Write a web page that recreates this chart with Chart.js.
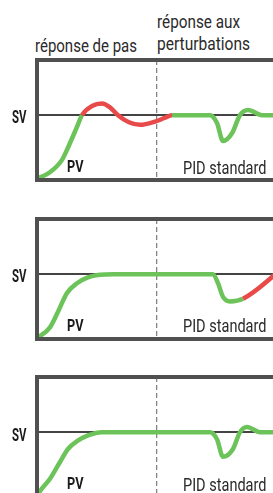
<!DOCTYPE html>
<html>
<head>
<meta charset="utf-8">
<script src="https://cdn.jsdelivr.net/npm/chart.js@4.4.1/dist/chart.umd.min.js"></script>
<style>
    html, body { margin: 0; padding: 0; background: #fff; }
    body { width: 273px; height: 493px; overflow: hidden; position: relative; }
    canvas { position: absolute; left: 0; }
    .lbl {
        position: absolute;
        font-family: Roboto, 'DejaVu Sans Condensed', sans-serif;
        font-size: 18px;
        line-height: 18px;
        color: #2a2a2a;
        white-space: nowrap;
        transform-origin: 0 0;
    }
    .pv { font-weight: bold; font-size: 16.5px; line-height: 16.5px; color: #1a1a1a; }
    .sv { font-weight: bold; font-size: 19px; line-height: 19px; color: #1a1a1a; }
</style>
</head>
<body>

<canvas id="panel1" width="290" height="128" style="top:56px"></canvas>
<canvas id="panel2" width="290" height="128" style="top:215px"></canvas>
<canvas id="panel3" width="290" height="128" style="top:373px"></canvas>

<div class="lbl" data-w="102" style="left:35px; top:36.5px">réponse de pas</div>
<div class="lbl" data-w="83" style="left:157px; top:13px">réponse aux</div>
<div class="lbl" data-w="93" style="left:157px; top:34.5px">perturbations</div>

<div class="lbl sv" data-w="14.5" style="left:11.7px; top:107px">SV</div>
<div class="lbl sv" data-w="14.5" style="left:11.7px; top:266px">SV</div>
<div class="lbl sv" data-w="14.5" style="left:11.7px; top:425px">SV</div>

<div class="lbl pv" data-w="16.5" style="left:67px; top:159px">PV</div>
<div class="lbl" data-w="83.5" style="left:183px; top:159px">PID standard</div>
<div class="lbl pv" data-w="16.5" style="left:67px; top:318px">PV</div>
<div class="lbl" data-w="83.5" style="left:183px; top:317px">PID standard</div>
<div class="lbl pv" data-w="16.5" style="left:67px; top:476px">PV</div>
<div class="lbl" data-w="83.5" style="left:183px; top:475.5px">PID standard</div>

<script>
// Setpoint level and moment the disturbance part begins (dashed line)
const svLevel = 100;
const splitTime = 120;

// Panel 1 - overshooting step response
const panel1Time = [0, 13, 25, 33, 40, 45, 55, 65, 73, 81, 92, 103, 118, 128, 135, 173, 180, 186, 195, 203, 211, 225, 250];
const panel1PV   = [2, 12, 31, 57, 82, 100, 114, 118, 112, 100, 89, 85, 90, 96, 100, 100, 88, 60, 72, 100, 108, 100, 100];
const panel1Red  = [45, 135];

// Panel 2 - slow recovery after disturbance
const panel2Time = [0, 13, 21, 30, 40, 51, 63, 76, 176, 181, 186, 193, 206, 250];
const panel2PV   = [1, 18, 42, 71, 86, 95, 99, 100, 100, 86, 65, 58, 62, 115];
const panel2Red  = [206, 250];

// Panel 3 - good on both
const panel3Time = [0, 3, 13, 23, 31, 40, 51, 65, 173, 180, 186, 196, 203, 210, 223, 250];
const panel3PV   = [0, 9, 28, 54, 74, 86, 95, 100, 100, 89, 62, 74, 100, 108, 100, 100];
const panel3Red  = [];

const GREEN = '#6cc35a';
const RED = '#e84a4a';

// squeeze the labels to the condensed width of the original lettering
document.querySelectorAll('.lbl[data-w]').forEach(el => {
    const w = el.getBoundingClientRect().width;
    if (w > 0) el.style.transform = `scaleX(${parseFloat(el.dataset.w) / w})`;
});

// Draw the thick frame around the plot area
const framePlugin = {
    id: 'frame',
    afterDraw(chart) {
        const { ctx, chartArea } = chart;
        ctx.save();
        ctx.strokeStyle = '#505050';
        ctx.lineWidth = 4;
        ctx.strokeRect(chartArea.left, chartArea.top, chartArea.right - chartArea.left, chartArea.bottom - chartArea.top);
        ctx.restore();
    }
};

function makePanel(canvasId, times, values, redRange) {
    const points = times.map((t, i) => ({ x: t, y: values[i] }));
    const isRed = (a, b) => redRange.length === 2 && a >= redRange[0] && b <= redRange[1];

    new Chart(document.getElementById(canvasId), {
        type: 'line',
        data: {
            datasets: [{
                data: points,
                borderColor: GREEN,
                borderWidth: 4.5,
                pointRadius: 0,
                cubicInterpolationMode: 'monotone',
                segment: {
                    borderColor: c => isRed(c.p0.parsed.x, c.p1.parsed.x) ? RED : GREEN
                }
            }]
        },
        options: {
            responsive: false,
            animation: false,
            devicePixelRatio: 1,
            layout: { padding: { top: 4, bottom: 4, left: 0, right: 3 } },
            plugins: { legend: { display: false }, tooltip: { enabled: false } },
            scales: {
                x: {
                    type: 'linear',
                    min: 0,
                    max: 250,
                    border: { display: false, dash: [5, 3] },
                    ticks: { display: false },
                    grid: { color: '#858585', lineWidth: 1.3, drawTicks: false },
                    afterBuildTicks: s => { s.ticks = [{ value: splitTime }]; },
                    afterFit: s => { s.height = 0; s.paddingLeft = 0; s.paddingRight = 0; }
                },
                y: {
                    min: 0,
                    max: 185,
                    border: { display: false },
                    ticks: { display: false },
                    grid: { color: '#444', lineWidth: 2, drawTicks: false },
                    afterBuildTicks: s => { s.ticks = [{ value: svLevel }]; },
                    afterFit: s => { s.width = 37; s.paddingTop = 0; s.paddingBottom = 0; }
                }
            }
        },
        plugins: [framePlugin]
    });
}

makePanel('panel1', panel1Time, panel1PV, panel1Red);
makePanel('panel2', panel2Time, panel2PV, panel2Red);
makePanel('panel3', panel3Time, panel3PV, panel3Red);
</script>
</body>
</html>
